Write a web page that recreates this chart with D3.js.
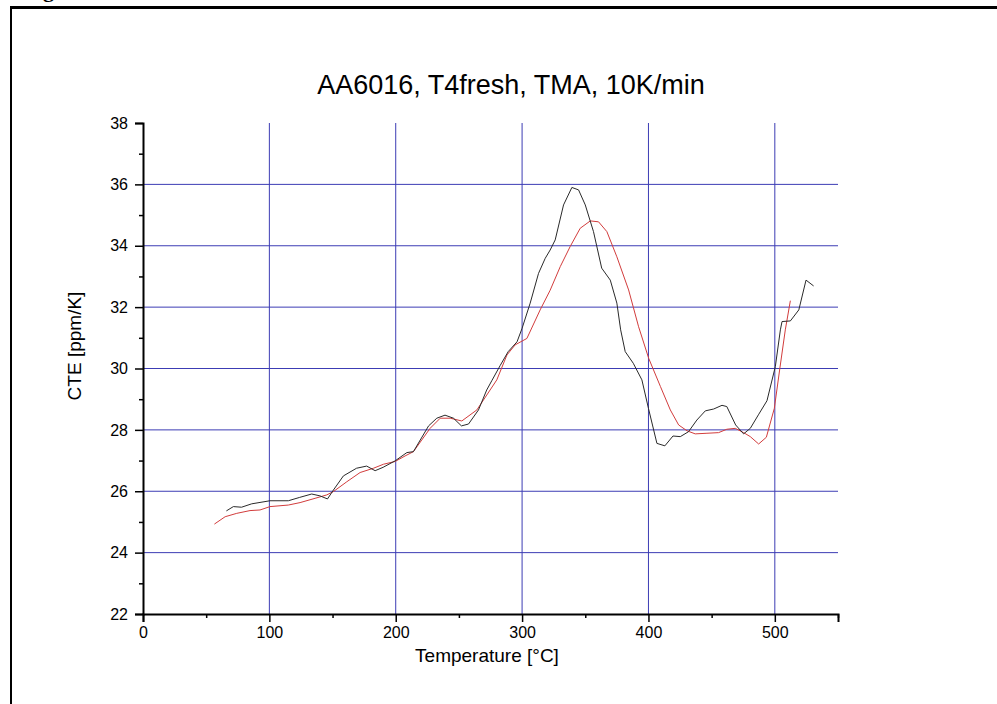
<!DOCTYPE html>
<html>
<head>
<meta charset="utf-8">
<script src="https://cdn.jsdelivr.net/npm/d3@7"></script>
<style>
  body { margin: 0; background: #fff; }
  svg { display: block; font-family: "Liberation Sans", Arial, sans-serif; }
</style>
</head>
<body>
<svg id="chart" width="997" height="704"></svg>
<script>
// black curve: temperature [°C], CTE [ppm/K]
const blackT = [66, 71.5, 78, 86, 100.5, 115, 124, 133.5, 140, 146, 150.7, 158.6, 169, 177, 183.7, 190, 199.5, 208.8, 214, 226, 232.5, 239, 245.7, 252, 257.6, 265.5, 272, 276, 282.7, 289, 296, 300, 306.4, 313, 318.3, 322.2, 326.2, 332.8, 339.4, 344.7, 350, 356.5, 363, 369.8, 375, 378, 381.6, 388, 394.8, 400, 406.7, 413, 419.4, 425.2, 431.7, 438.3, 445, 451.6, 458.2, 462, 469, 475.3, 480.6, 487, 493.8, 500.4, 504.4, 505.7, 512.3, 519, 524.7, 530.7];
const blackCTE = [25.36, 25.5, 25.48, 25.59, 25.69, 25.69, 25.8, 25.91, 25.85, 25.75, 26.04, 26.5, 26.75, 26.82, 26.67, 26.78, 26.99, 27.26, 27.29, 28.13, 28.38, 28.48, 28.38, 28.13, 28.19, 28.65, 29.3, 29.6, 30.1, 30.55, 30.87, 31.31, 32.13, 33.1, 33.59, 33.86, 34.19, 35.33, 35.9, 35.82, 35.33, 34.46, 33.27, 32.88, 32.13, 31.26, 30.55, 30.17, 29.63, 28.7, 27.56, 27.48, 27.8, 27.78, 27.94, 28.32, 28.62, 28.68, 28.8, 28.76, 28.16, 27.87, 28.05, 28.49, 28.95, 30.06, 31.26, 31.53, 31.55, 31.91, 32.88, 32.69];

// red curve
const redT = [56.5, 65, 74.2, 84.7, 92.6, 100.5, 115, 124.3, 136.2, 145.4, 150.7, 161.3, 171.8, 182.4, 190.3, 199.5, 207.4, 214, 227.2, 235.2, 243.1, 252.3, 264.2, 274.7, 280, 288, 294.5, 303.8, 314.3, 322.2, 330.2, 338, 346, 354, 360.5, 367.1, 375, 384.3, 392.2, 400.2, 409.5, 417.3, 423.9, 430.5, 437, 446.3, 455.5, 462, 468.7, 475.3, 480.6, 487.2, 493.3, 499.6, 503.8, 508.3, 512.3];
const redCTE = [24.93, 25.17, 25.28, 25.37, 25.39, 25.5, 25.55, 25.63, 25.77, 25.88, 25.99, 26.31, 26.61, 26.75, 26.88, 26.97, 27.15, 27.29, 28.05, 28.38, 28.38, 28.29, 28.65, 29.3, 29.63, 30.44, 30.77, 30.98, 31.91, 32.55, 33.32, 33.97, 34.57, 34.81, 34.78, 34.46, 33.64, 32.56, 31.36, 30.33, 29.41, 28.65, 28.16, 27.97, 27.87, 27.89, 27.91, 28.02, 28.05, 27.91, 27.78, 27.54, 27.76, 28.7, 29.95, 31.26, 32.21];

const xMajor = [0, 100, 200, 300, 400, 500];
const xMinor = [50, 150, 250, 350, 450, 550];
const yMajor = [22, 24, 26, 28, 30, 32, 34, 36, 38];
const yMinor = [23, 25, 27, 29, 31, 33, 35, 37];
const xGrid = [100, 200, 300, 400, 500];
const yGrid = [24, 26, 28, 30, 32, 34, 36];

const svg = d3.select("#chart");
const x = d3.scaleLinear().domain([0, 550]).range([143, 838]);
const y = d3.scaleLinear().domain([22, 38]).range([614, 123]);

// page frame
svg.append("line").attr("x1", 10).attr("x2", 997).attr("y1", 7.5).attr("y2", 7.5)
  .attr("stroke", "#000").attr("stroke-width", 3);
svg.append("line").attr("x1", 11).attr("x2", 11).attr("y1", 6).attr("y2", 704)
  .attr("stroke", "#000").attr("stroke-width", 2);
svg.append("text").attr("x", 54).attr("y", -3).attr("text-anchor", "end")
  .style("font-family", "'Liberation Serif', serif").style("font-weight", "bold")
  .style("font-size", "22px").text("Fig");

// grid
const gridColor = "#3c3cb4";
svg.append("g").selectAll("line").data(xGrid).join("line")
  .attr("x1", d => x(d)).attr("x2", d => x(d))
  .attr("y1", y(38)).attr("y2", y(22))
  .attr("stroke", gridColor).attr("stroke-width", 1);
svg.append("g").selectAll("line").data(yGrid).join("line")
  .attr("x1", x(0)).attr("x2", x(550))
  .attr("y1", d => y(d)).attr("y2", d => y(d))
  .attr("stroke", gridColor).attr("stroke-width", 1);

// curves
const line = d3.line().x(d => x(d[0])).y(d => y(d[1]));
svg.append("path").datum(d3.zip(redT, redCTE))
  .attr("d", line).attr("fill", "none").attr("stroke", "#d23c3c").attr("stroke-width", 1);
svg.append("path").datum(d3.zip(blackT, blackCTE))
  .attr("d", line).attr("fill", "none").attr("stroke", "#2a2a2a").attr("stroke-width", 1);

// axes
const fmt = d3.format("d");
svg.append("g").attr("transform", `translate(0,${y(22)})`)
  .call(d3.axisBottom(x).tickValues(xMajor).tickSize(8).tickPadding(5).tickFormat(fmt));
svg.append("g").attr("transform", `translate(0,${y(22)})`)
  .call(d3.axisBottom(x).tickValues(xMinor).tickSize(4).tickFormat(""))
  .call(g => g.select(".domain").remove());
svg.append("g").attr("transform", `translate(${x(0)},0)`)
  .call(d3.axisLeft(y).tickValues(yMajor).tickSize(8).tickPadding(7).tickFormat(fmt));
svg.append("g").attr("transform", `translate(${x(0)},0)`)
  .call(d3.axisLeft(y).tickValues(yMinor).tickSize(4).tickFormat(""))
  .call(g => g.select(".domain").remove());

svg.selectAll(".domain").attr("stroke", "#000").attr("stroke-width", 2);
svg.selectAll(".tick line").attr("stroke", "#000").attr("stroke-width", 1.5);
svg.selectAll(".tick text").attr("fill", "#000").attr("font-size", 16)
  .attr("font-family", "'Liberation Sans', Arial, sans-serif");

// titles
svg.append("text").attr("x", 511).attr("y", 94).attr("text-anchor", "middle")
  .attr("font-size", 27).text("AA6016, T4fresh, TMA, 10K/min");
svg.append("text").attr("x", 487).attr("y", 662).attr("text-anchor", "middle")
  .attr("font-size", 19).text("Temperature [°C]");
svg.append("text").attr("transform", "translate(81,346) rotate(-90)")
  .attr("text-anchor", "middle").attr("font-size", 19).text("CTE [ppm/K]");
</script>
</body>
</html>
